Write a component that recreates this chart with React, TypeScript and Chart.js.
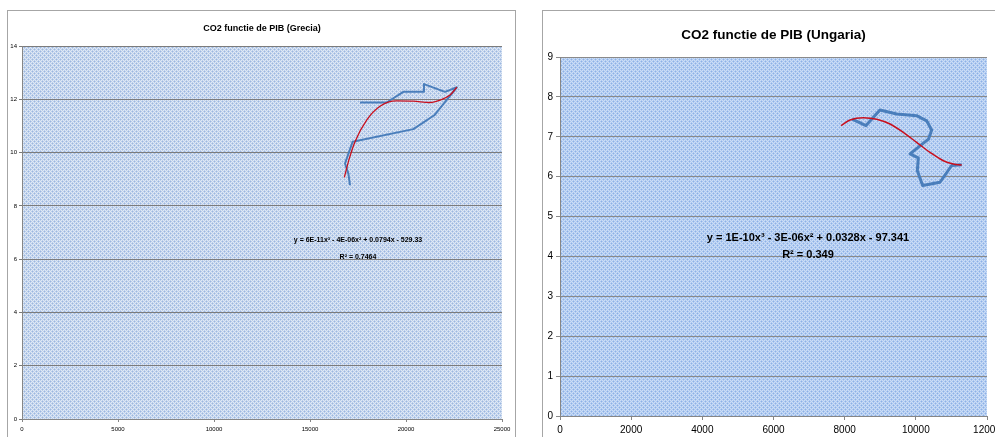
import React, { useEffect, useRef } from "react";
import { Chart, registerables } from "chart.js";

Chart.register(...registerables);

// ---------- Data: Grecia ----------
const greciaTitle = "CO2 functie de PIB (Grecia)";
const greciaGdp = [17083, 16997, 16823, 17222, 20382, 21470, 22650, 22031, 20938, 20938, 19861, 18993, 17604];
const greciaCo2 = [8.78, 9.22, 9.59, 10.41, 10.88, 11.4, 12.45, 12.28, 12.57, 12.28, 12.28, 11.88, 11.88];
const greciaTrendGdp = [16788, 17049, 17344, 17951, 18646, 19514, 20382, 21250, 21771, 22292, 22650];
const greciaTrendCo2 = [9.07, 9.78, 10.41, 11.22, 11.74, 11.94, 11.93, 11.88, 11.97, 12.16, 12.45];
const greciaEquation = ["y = 6E-11x³ - 4E-06x² + 0.0794x - 529.33", "R² = 0.7464"];
const greciaXTicks = [0, 5000, 10000, 15000, 20000, 25000];
const greciaYTicks = [0, 2, 4, 6, 8, 10, 12, 14];

// ---------- Data: Ungaria ----------
const ungariaTitle = "CO2 functie de PIB (Ungaria)";
const ungariaGdp = [8210, 8599, 8993, 9461, 10023, 10304, 10445, 10355, 9836, 10070, 10042, 10192, 10679, 11007, 11290];
const ungariaCo2 = [7.44, 7.28, 7.67, 7.57, 7.53, 7.4, 7.17, 6.94, 6.57, 6.47, 6.15, 5.78, 5.86, 6.28, 6.3];
const ungariaTrendGdp = [7897, 8150, 8525, 8900, 9274, 9648, 10023, 10398, 10773, 11054, 11290];
const ungariaTrendCo2 = [7.28, 7.42, 7.48, 7.44, 7.32, 7.11, 6.86, 6.61, 6.4, 6.32, 6.29];
const ungariaEquation = ["y = 1E-10x³ - 3E-06x² + 0.0328x - 97.341", "R² = 0.349"];
const ungariaXTicks = [0, 2000, 4000, 6000, 8000, 10000, 12000];
const ungariaYTicks = [0, 1, 2, 3, 4, 5, 6, 7, 8, 9];

const FONT = "'Liberation Sans Narrow', 'Liberation Sans', Arial, sans-serif";

function makePattern(rows: string[][]): CanvasPattern | string {
  const c = document.createElement("canvas");
  c.width = rows[0].length;
  c.height = rows.length;
  const ctx = c.getContext("2d");
  if (!ctx) return "#c0d2ea";
  rows.forEach((row, y) =>
    row.forEach((col, x) => {
      ctx.fillStyle = col;
      ctx.fillRect(x, y, 1, 1);
    })
  );
  return ctx.createPattern(c, "repeat") || "#c0d2ea";
}

const plotBgPlugin = {
  id: "plotBg",
  beforeDraw(chart: any, _args: any, opts: any) {
    const { ctx, chartArea } = chart;
    if (!chartArea || !opts.fill) return;
    ctx.save();
    ctx.fillStyle = opts.fill;
    ctx.fillRect(chartArea.left, chartArea.top, chartArea.right - chartArea.left, chartArea.bottom - chartArea.top);
    ctx.restore();
  },
};

const eqTextPlugin = {
  id: "eqText",
  afterDatasetsDraw(chart: any, _args: any, opts: any) {
    if (!opts.lines) return;
    const { ctx } = chart;
    const x = chart.scales.x.getPixelForValue(opts.x);
    ctx.save();
    ctx.font = `bold ${opts.size}px ${FONT}`;
    ctx.fillStyle = "#000";
    ctx.textAlign = "center";
    ctx.textBaseline = "middle";
    opts.lines.forEach((line: string, i: number) => {
      const y = chart.scales.y.getPixelForValue(opts.ys[i]);
      ctx.fillText(line, x, y);
    });
    ctx.restore();
  },
};

interface PanelProps {
  left: number;
  top: number;
  width: number;
  height: number;
  title: string;
  titleSize: number;
  titlePad: { top: number; bottom: number };
  gdp: number[];
  co2: number[];
  trendGdp: number[];
  trendCo2: number[];
  xTicks: number[];
  yTicks: number[];
  tickSize: number;
  yAxisW: number;
  xAxisH: number;
  padRight: number;
  tickLen: number;
  xTickPad: number;
  yTickPad: number;
  blueWidth: number;
  redWidth: number;
  eqLines: string[];
  eqX: number;
  eqYs: number[];
  eqSize: number;
  patternRows: string[][];
  gridColor: string;
}

function ChartPanel(p: PanelProps) {
  const ref = useRef<HTMLCanvasElement | null>(null);
  useEffect(() => {
    if (!ref.current) return;
    const pattern = makePattern(p.patternRows);
    const xMin = p.xTicks[0];
    const xMax = p.xTicks[p.xTicks.length - 1];
    const yMin = p.yTicks[0];
    const yMax = p.yTicks[p.yTicks.length - 1];
    const chart = new Chart(ref.current, {
      type: "scatter",
      data: {
        datasets: [
          {
            data: p.trendGdp.map((x, i) => ({ x, y: p.trendCo2[i] })),
            showLine: true,
            borderColor: "#c8101e",
            borderWidth: p.redWidth,
            pointRadius: 0,
            tension: 0.4,
            cubicInterpolationMode: "monotone",
            order: 1,
          } as any,
          {
            data: p.gdp.map((x, i) => ({ x, y: p.co2[i] })),
            showLine: true,
            borderColor: "#4a7ebb",
            borderWidth: p.blueWidth,
            pointRadius: 0,
            tension: 0,
            borderJoinStyle: "round",
            order: 2,
          } as any,
        ],
      },
      options: {
        animation: false,
        responsive: false,
        maintainAspectRatio: false,
        layout: { padding: { left: 0, top: 0, right: p.padRight, bottom: 0 } },
        plugins: {
          legend: { display: false },
          tooltip: { enabled: false },
          title: {
            display: true,
            fullSize: false,
            text: p.title,
            color: "#000",
            font: { family: FONT, size: p.titleSize, weight: "bold" },
            padding: p.titlePad,
          },
          plotBg: { fill: pattern },
          eqText: { lines: p.eqLines, x: p.eqX, ys: p.eqYs, size: p.eqSize },
        } as any,
        scales: {
          x: {
            type: "linear",
            min: xMin,
            max: xMax,
            afterBuildTicks: (s: any) => {
              s.ticks = p.xTicks.map((v) => ({ value: v }));
            },
            ticks: {
              color: "#000",
              font: { family: FONT, size: p.tickSize },
              padding: p.xTickPad,
              maxRotation: 0,
              autoSkip: false,
              callback: (v: any) => String(v),
            },
            grid: {
              display: true,
              drawOnChartArea: false,
              drawTicks: true,
              tickLength: p.tickLen,
              color: "#868686",
            },
            border: { display: true, color: "#868686", width: 1 },
            afterFit: (s: any) => {
              s.height = p.xAxisH;
              s.paddingLeft = 0;
              s.paddingRight = 0;
            },
          },
          y: {
            type: "linear",
            min: yMin,
            max: yMax,
            afterBuildTicks: (s: any) => {
              s.ticks = p.yTicks.map((v) => ({ value: v }));
            },
            ticks: {
              color: "#000",
              font: { family: FONT, size: p.tickSize },
              padding: p.yTickPad,
              autoSkip: false,
              callback: (v: any) => String(v),
            },
            grid: {
              display: true,
              drawTicks: true,
              tickLength: p.tickLen,
              color: p.gridColor,
              lineWidth: 1,
            },
            border: { display: true, color: "#868686", width: 1 },
            afterFit: (s: any) => {
              s.width = p.yAxisW;
              s.paddingTop = 0;
              s.paddingBottom = 0;
            },
          },
        } as any,
      },
      plugins: [plotBgPlugin, eqTextPlugin],
    });
    return () => chart.destroy();
  }, []);
  return (
    <canvas
      ref={ref}
      width={p.width}
      height={p.height}
      style={{ position: "absolute", left: p.left, top: p.top, width: p.width, height: p.height }}
    />
  );
}

const L = "#adc8ef";
const W = "#cbddf6";
const B = "#8cb0e6";
const rightPattern = [
  [B, L, W, L],
  [L, W, L, W],
  [W, L, B, L],
  [L, W, L, W],
];
const L2 = "#bccfea";
const W2 = "#dfe8f5";
const B2 = "#9cb7e0";
const leftPattern = [
  [B2, L2, W2, L2],
  [L2, W2, L2, W2],
  [W2, L2, B2, L2],
  [L2, W2, L2, W2],
];

export default function App() {
  return (
    <div
      style={{
        position: "absolute",
        left: 0,
        top: 0,
        width: 995,
        height: 437,
        overflow: "hidden",
        background: "#fff",
      }}
    >
      <div style={{ position: "absolute", left: 7, top: 10, width: 507, height: 440, border: "1px solid #a6a6a6" }} />
      <div style={{ position: "absolute", left: 542, top: 10, width: 470, height: 440, border: "1px solid #a6a6a6" }} />
      <ChartPanel
        left={8}
        top={11}
        width={506}
        height={426}
        title={greciaTitle}
        titleSize={9}
        titlePad={{ top: 12, bottom: 12.2 }}
        gdp={greciaGdp}
        co2={greciaCo2}
        trendGdp={greciaTrendGdp}
        trendCo2={greciaTrendCo2}
        xTicks={greciaXTicks}
        yTicks={greciaYTicks}
        tickSize={6}
        yAxisW={14}
        xAxisH={18}
        padRight={12}
        tickLen={3}
        xTickPad={4}
        yTickPad={2}
        blueWidth={2}
        redWidth={1.3}
        eqLines={greciaEquation}
        eqX={17500}
        eqYs={[6.72, 6.08]}
        eqSize={7}
        patternRows={leftPattern}
        gridColor="#7c7c7c"
      />
      <ChartPanel
        left={543}
        top={11}
        width={452}
        height={426}
        title={ungariaTitle}
        titleSize={13.5}
        titlePad={{ top: 15.9, bottom: 13.9 }}
        gdp={ungariaGdp}
        co2={ungariaCo2}
        trendGdp={ungariaTrendGdp}
        trendCo2={ungariaTrendCo2}
        xTicks={ungariaXTicks}
        yTicks={ungariaYTicks}
        tickSize={10}
        yAxisW={17}
        xAxisH={21}
        padRight={8}
        tickLen={4}
        xTickPad={4}
        yTickPad={3}
        blueWidth={3}
        redWidth={1.5}
        eqLines={ungariaEquation}
        eqX={6970}
        eqYs={[4.475, 4.025]}
        eqSize={11}
        patternRows={rightPattern}
        gridColor="#8a8a8a"
      />
    </div>
  );
}
